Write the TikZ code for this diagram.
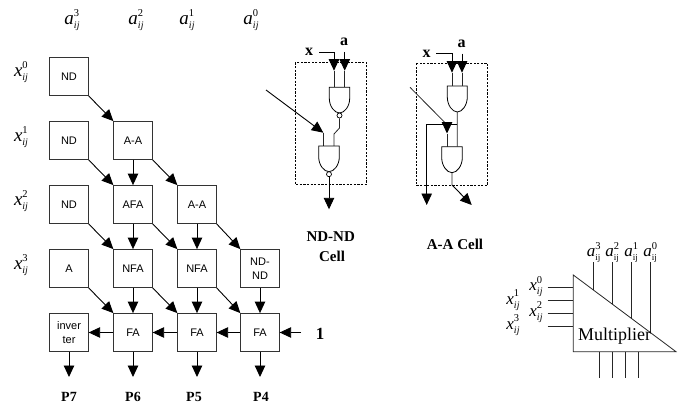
\documentclass[tikz,border=0pt]{standalone}
\usepackage{fontspec}
\setmainfont{Liberation Serif}
\newfontfamily\boxfont{Liberation Sans}
\usetikzlibrary{arrows.meta,positioning}
\newcommand\lbl[3]{{\fontsize{19}{19}\selectfont\textit{#1}}\rlap{\raisebox{8pt}{\fontsize{10.5}{10}\selectfont #3}}\raisebox{-4pt}{\fontsize{10}{10}\selectfont\textit{#2}}}
\newcommand\lbm[3]{{\fontsize{17}{17}\selectfont\textit{#1}}\rlap{\raisebox{7.5pt}{\fontsize{10.5}{10}\selectfont #3}}\raisebox{-4pt}{\fontsize{10}{10}\selectfont\textit{#2}}}
\newcommand\lblu[2]{{\fontsize{17}{17}\selectfont\textit{a}}\rlap{\raisebox{7.5pt}{\fontsize{10.5}{10}\selectfont #2}}\raisebox{-4pt}{\fontsize{9}{10}\selectfont #1}}
\tikzset{
  cell/.style={draw=black!80,line width=0.8pt,minimum width=38.5pt,minimum height=38pt,inner sep=0pt,align=center,font=\boxfont\fontsize{11}{13.5}\selectfont},
  tipped/.style={-{Triangle[length=11.5pt,width=10.5pt]},line width=0.9pt,shorten >=0pt,shorten <=0pt},
  wire/.style={line width=0.8pt,black!85},
  gatestyle/.style={draw=black,line width=0.8pt,fill=white},
  bub/.style={circle,draw=black,line width=0.7pt,fill=white,inner sep=0pt,minimum size=5pt},
  lab/.style={inner sep=0pt,anchor=base},
  boldlab/.style={inner sep=0pt,font=\bfseries\fontsize{15}{15}\selectfont},
  plab/.style={inner sep=0pt,font=\bfseries\fontsize{14}{14}\selectfont},
  serifx/.style={inner sep=0pt,font=\bfseries\fontsize{16}{16}\selectfont},
  cellbox/.style={draw=black,dashed,line width=0.8pt,dash pattern=on 2.2pt off 1.4pt}
}
\newcommand\gate[5]{% name, left x, right x, top y, bottom y
  \draw[gatestyle] (#2,#4) -- (#3,#4) -- (#3,#4+11) .. controls (#3,#4+19) and (#2/2+#3/2+5,#5) .. (#2/2+#3/2,#5) .. controls (#2/2+#3/2-5,#5) and (#2,#4+19) .. (#2,#4+11) -- cycle;
  \coordinate (#1) at (#2/2+#3/2,#5);
}
\begin{document}
\begin{tikzpicture}[x=1pt,y=-1pt]
\useasboundingbox (0,0) rectangle (683,412);
% column / row labels
\node[lab] (a3) at (72,25) {\lbl{a}{ij}{3}};
\node[lab] (a2) at (136,25) {\lbl{a}{ij}{2}};
\node[lab] (a1) at (187,25) {\lbl{a}{ij}{1}};
\node[lab] (a0) at (251,25) {\lbl{a}{ij}{0}};
\node[lab] (x0) at (21,77) {\lbl{x}{ij}{0}};
\node[lab] (x1) at (21,141) {\lbl{x}{ij}{1}};
\node[lab] (x2) at (21,205) {\lbl{x}{ij}{2}};
\node[lab] (x3) at (21,269) {\lbl{x}{ij}{3}};
% array
\node[cell] (n00) at (69,76.5) {ND};
\node[cell] (n10) at (69,140.5) {ND};
\node[cell] (n20) at (69,204.5) {ND};
\node[cell] (n30) at (69,268.5) {A};
\node[cell] (inv) at (69,332.5) {inver\\ter};
\node[cell] (n11) at (133,140.5) {A-A};
\node[cell] (n21) at (133,204.5) {AFA};
\node[cell] (n31) at (133,268.5) {NFA};
\node[cell] (f1) at (133,332.5) {FA};
\node[cell] (n22) at (197,204.5) {A-A};
\node[cell] (n32) at (197,268.5) {NFA};
\node[cell] (f2) at (197,332.5) {FA};
\node[cell] (n33) at (260,268.5) {ND-\\ND};
\node[cell] (f3) at (260,332.5) {FA};
% diagonal
\foreach \p/\q in {n00/n11,n10/n21,n11/n22,n20/n31,n21/n32,n22/n33,n30/f1,n31/f2,n32/f3}
  \draw[tipped] (\p.south east) -- (\q.north west);
% vertical
\foreach \p/\q in {n11/n21,n21/n31,n22/n32,n31/f1,n32/f2,n33/f3}
  \draw[tipped] (\p) ++(0,19) -- (\q.north);
% horizontal
\foreach \p/\q in {f1/inv,f2/f1,f3/f2}
  \draw[tipped] (\p.west) -- (\q.east);
\node[inner sep=0pt,font=\bfseries\fontsize{17}{17}\selectfont] (one) at (320,334) {1};
\coordinate (onein) at (301,332.5);
\draw[tipped] (onein) -- (f3.east);
% outputs
\node[plab] (p7) at (69,397) {P7};
\node[plab] (p6) at (133,397) {P6};
\node[plab] (p5) at (194,397) {P5};
\node[plab] (p4) at (261,397) {P4};
\foreach \p/\x in {inv/69,f1/133,f2/197,f3/260}{
  \coordinate (o\p) at (\x,377);
  \draw[tipped] (\p.south) -- (o\p);
}
% ND-ND cell
\draw[cellbox] (295,62.7) rectangle (366.7,184);
\node[serifx] (xl) at (309,52) {x};
\node[serifx] (al) at (344,42) {a};
\coordinate (xs) at (319,52); \coordinate (xc) at (334,52); \coordinate (xt) at (334,70.7);
\coordinate (as) at (344.7,52); \coordinate (at) at (344.7,70.7);
\draw[tipped] (xs) -- (xc) -- (xt);
\draw[tipped] (as) -- (at);
\draw[wire] (xt) -- (334,87.3);
\draw[wire] (at) -- (344.7,87.3);
\gate{g1}{329.3}{349.7}{87.3}{113}
\node[bub] (b1) at (339.5,115.5) {};
\coordinate (diag1) at (266,90); \coordinate (diag1e) at (323.3,132.7);
\draw[tipped] (diag1) -- (diag1e);
\draw[wire] (diag1e) -- (323.3,146);
\draw[wire] (b1.south) -- (339.5,128) -- (334,134) -- (334,146);
\gate{g2}{318.7}{339.3}{146}{171.7}
\node[bub] (b2) at (329,174.2) {};
\coordinate (o1) at (329,209.3);
\draw[tipped] (b2.south) -- (o1);
\node[boldlab] (c1a) at (330.7,236.7) {ND-ND};
\node[boldlab] (c1b) at (332,256) {Cell};
% A-A cell
\draw[cellbox] (416,63.3) rectangle (487.7,185.3);
\node[serifx] (xl2) at (426.5,54) {x};
\node[serifx] (al2) at (461.5,44) {a};
\coordinate (xs2) at (436,53.7); \coordinate (xc2) at (452,53.7); \coordinate (xt2) at (452,72.7);
\coordinate (as2) at (462,53.7); \coordinate (at2) at (462,72.7);
\draw[tipped] (xs2) -- (xc2) -- (xt2);
\draw[tipped] (as2) -- (at2);
\draw[wire] (xt2) -- (452,86);
\draw[wire] (at2) -- (462,86);
\gate{g3}{447.3}{467.3}{86}{112}
\draw[wire] (g3) -- (457.3,146.7);
\coordinate (bus) at (457.3,124.7); \coordinate (ol) at (426.7,205);
\draw[tipped] (bus) -- (426.7,124.7) -- (ol);
\coordinate (diag2) at (410,87.3); \coordinate (diag2m) at (447,124.7); \coordinate (diag2t) at (447,133.5);
\draw[wire] (diag2) -- (diag2m);
\draw[tipped] (diag2m) -- (diag2t);
\draw[wire] (diag2t) -- (447,146.7);
\gate{g4}{441.7}{462.3}{146.7}{172.7}
\coordinate (g4o) at (452,185); \coordinate (o2) at (471.7,205);
\draw[wire] (g4) -- (g4o);
\draw[tipped] (g4o) -- (o2);
\node[boldlab] (c2) at (455,244.5) {A-A Cell};
% Multiplier
\coordinate (tA) at (573.3,275); \coordinate (tB) at (676,351.7); \coordinate (tC) at (573.3,351.7);
\foreach \y in {287.7,300.7,313.3,326}{
  \coordinate (il) at (547.7,\y);
  \coordinate (ir) at (573.3,\y);
  \draw[wire] (il) -- (ir);
}
\foreach \x/\yy in {593/290,612/304.3,631.3/318.7,650.7/333.2}{
  \coordinate (tl) at (\x,262.3);
  \coordinate (tr) at (\x,\yy);
  \draw[wire] (tl) -- (tr);
}
\foreach \x in {599.3,612,625,638}{
  \coordinate (bl) at (\x,351.7);
  \coordinate (br) at (\x,377.7);
  \draw[wire] (bl) -- (br);
}
\draw[line width=0.8pt,black!85] (tA) -- (tB) -- (tC) -- cycle;
\node[inner sep=0pt,font=\fontsize{18}{18}\selectfont] (m) at (614.5,336.5) {Multiplier};
\node[lab] (ma3) at (593.5,256.7) {\lblu{ij}{3}};
\node[lab] (ma2) at (612,256.7) {\lblu{ij}{2}};
\node[lab] (ma1) at (631,256.7) {\lblu{ij}{1}};
\node[lab] (ma0) at (650,256.7) {\lblu{ij}{0}};
\node[lab] (mx0) at (536,290.7) {\lbm{x}{ij}{0}};
\node[lab] (mx1) at (513,304) {\lbm{x}{ij}{1}};
\node[lab] (mx2) at (536,316) {\lbm{x}{ij}{2}};
\node[lab] (mx3) at (513,329.3) {\lbm{x}{ij}{3}};
\end{tikzpicture}
\end{document}
